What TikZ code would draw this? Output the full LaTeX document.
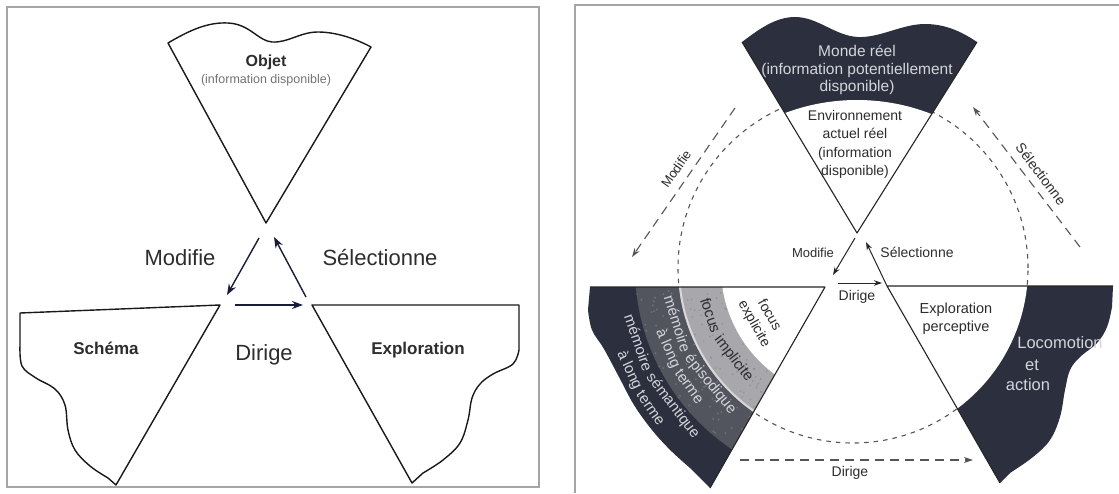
\documentclass[tikz,border=0pt]{standalone}
\usepackage{fontspec}
\setmainfont{Liberation Sans}
\usetikzlibrary{arrows.meta,calc}
\definecolor{navy}{RGB}{44,47,62}
\definecolor{midg}{RGB}{82,84,94}
\definecolor{lightg}{RGB}{168,168,172}
\definecolor{framec}{RGB}{165,165,165}
\definecolor{txt}{RGB}{45,45,45}
\definecolor{arr}{RGB}{25,28,55}
\definecolor{dashc}{RGB}{85,85,85}
\definecolor{lighttxt}{RGB}{212,212,218}
\newcommand\fsz[2]{\fontsize{#1}{#2}\selectfont}
% radius, angle (px-down frame), colour, size, text, name
\newcommand\arcword[6]{%
  \node[inner sep=0pt, text=#3, font=\fsz{#4}{#4}, rotate={90-(#2)}] (#6) at ({853+#1*cos(#2)},{268+#1*sin(#2)}) {#5};}
\begin{document}
\begin{tikzpicture}[x=1pt,y=-1pt,
  outl/.style={draw=black!90, line width=1.4pt, line join=round},
  rout/.style={draw=black!85, line width=1.1pt, line join=round},
  bigarrow/.style={draw=arr, line width=1.4pt, -{Stealth[length=11pt,width=8pt]}},
  smallarrow/.style={draw=black!85, line width=1pt, -{Stealth[length=8pt,width=5.5pt]}},
  dasharrow/.style={draw=dashc, line width=1.1pt, dash pattern=on 9pt off 6pt, -{Stealth[length=9pt,width=6pt]}},
  dashcirc/.style={draw=dashc, line width=1.1pt, dash pattern=on 4.5pt off 5pt},
  framel/.style={draw=framec, line width=1.2pt},
  lbl/.style={inner sep=0pt, text=txt, align=center},
  dlbl/.style={inner sep=0pt, text=lighttxt, align=center},
]
\useasboundingbox (0,0) rectangle (1119,493);
\fill[white] (0,0) rectangle (1119,493);

% ================= LEFT PANEL =================
\draw[framel] (7,7) rectangle (539,487);
\draw[outl] (168,43) .. controls (190,30) and (208,22) .. (228,23) .. controls (250,24) and (258,41) .. (272,42) .. controls (288,43) and (300,32) .. (318,32) .. controls (338,32) and (358,40) .. (371,47) -- (266,223) -- cycle;
\draw[outl] (20,313) -- (220,305) -- (116,485) -- plot[smooth,tension=0.6] coordinates {(108,478) (90,466) (75,450) (68,430) (65,405) (55,389) (36,378) (22,366) (20,345)} -- cycle;
\draw[outl] (312,305) -- (519,305) -- plot[smooth,tension=0.6] coordinates {(519,350) (513,364) (493,374) (480,384) (472,398) (468,420) (460,443) (443,460) (423,473)} -- (412,483) -- cycle;

\coordinate (lmA) at (259,238); \coordinate (lmB) at (227,295);
\coordinate (lsA) at (306,297); \coordinate (lsB) at (274,237);
\coordinate (ldA) at (235,305); \coordinate (ldB) at (303,305);
\draw[bigarrow] (lmA) -- (lmB);
\draw[bigarrow] (lsA) -- (lsB);
\draw[bigarrow] (ldA) -- (ldB);

\node[lbl, font=\fsz{16}{19}\bfseries] (objet) at (266,62) {Objet};
\node[lbl, text=black!55, font=\fsz{12.5}{15}] (objinfo) at (266,80) {(information disponible)};
\node[lbl, font=\fsz{22}{26}] (lmod) at (180,258) {Modifie};
\node[lbl, font=\fsz{22}{26}] (lsel) at (380,258) {Sélectionne};
\node[lbl, font=\fsz{22}{26}] (ldir) at (264,355) {Dirige};
\node[lbl, font=\fsz{17}{20}\bfseries] (schema) at (106,348) {Schéma};
\node[lbl, font=\fsz{17}{20}\bfseries] (explo) at (418,350) {Exploration};

% ================= RIGHT PANEL =================
\draw[framel] (575,493) -- (575,5) -- (1119,5);
\coordinate (O) at (853,268);
\draw[dashcirc] (O) circle[radius=175pt];

% top region
\fill[navy] (742,42) .. controls (758,30) and (775,17) .. (795,17) .. controls (818,17) and (835,36) .. (858,37) .. controls (880,38) and (902,24) .. (925,24) .. controls (948,24) and (965,34) .. (977,42) -- (857,233) -- cycle;
\begin{scope}
\clip (742,42) -- (977,42) -- (857,233) -- cycle;
\fill[white] (857,304) circle[radius=204pt];
\end{scope}
\draw[rout] (742,42) -- (857,233) -- (977,42);

% bottom-left region
\begin{scope}
\clip (590,287) -- (825,287) -- (710,488) -- plot[smooth,tension=0.6] coordinates {(690.6,468.5) (670.6,450.4) (652,430) (634,405) (619,377) (604,349) (592,330) (588,310)} -- cycle;
\fill[navy] (580,280) rectangle (840,495);
\begin{scope}
\clip (O) circle[radius=218pt];
\fill[midg] (580,280) rectangle (840,495);
\pgfmathsetseed{7}
\foreach \k in {1,...,500}{\pgfmathsetmacro{\sx}{705+125*rand}\pgfmathsetmacro{\sy}{390+100*rand}\fill[gray!70, opacity=0.35] (\sx,\sy) circle[radius=1.1pt];}
\end{scope}
\fill[lightg] (O) circle[radius=175pt];
\draw[lightg!45!white, line width=2pt] (O) circle[radius=174pt];
\begin{scope}
\clip (O) circle[radius=172pt];
\pgfmathsetseed{11}
\foreach \k in {1,...,400}{\pgfmathsetmacro{\sx}{735+100*rand}\pgfmathsetmacro{\sy}{370+80*rand}\fill[black!60, opacity=0.3] (\sx,\sy) circle[radius=1pt];}
\end{scope}
\fill[white] (O) circle[radius=132pt];
\end{scope}
\draw[rout] (590,287) -- (825,287) -- (710,488);

% bottom-right region
\fill[navy] (887,286) -- (1113,286) -- plot[smooth,tension=0.6] coordinates {(1112,307) (1107,327) (1097,343) (1080,357) (1070,370) (1065,390) (1060,417) (1050,440) (1033,457) (1010,473)} -- (1000,483) -- cycle;
\begin{scope}
\clip (887,286) -- (1113,286) -- plot[smooth,tension=0.6] coordinates {(1112,307) (1107,327) (1097,343) (1080,357) (1070,370) (1065,390) (1060,417) (1050,440) (1033,457) (1010,473)} -- (1000,483) -- cycle;
\fill[white] (O) circle[radius=175pt];
\end{scope}
\draw[rout] (1113,286) -- (887,286) -- (1000,483);

% central arrows
\coordinate (msA) at (855,238); \coordinate (msB) at (833,275);
\coordinate (ssA) at (887,286); \coordinate (ssB) at (866,242);
\coordinate (dsA) at (838,283); \coordinate (dsB) at (882,283);
\draw[smallarrow] (msA) -- (msB);
\draw[smallarrow] (ssA) -- (ssB);
\draw[smallarrow] (dsA) -- (dsB);

% dashed arrows
\coordinate (mdA) at (735,108); \coordinate (mdB) at (632,257);
\coordinate (sdA) at (1080,247); \coordinate (sdB) at (973,107);
\coordinate (ddA) at (740,460); \coordinate (ddB) at (973,460);
\draw[dasharrow] (mdA) -- (mdB);
\draw[dasharrow] (sdA) -- (sdB);
\draw[dasharrow] (ddA) -- (ddB);

% texts
\node[dlbl, font=\fsz{15.5}{17.5}] (monde) at (857,70) {Monde réel\\(information potentiellement\\disponible)};
\node[lbl, font=\fsz{14}{18.3}] (env) at (855,144.5) {Environnement\\actuel réel\\(information\\disponible)};
\node[lbl, font=\fsz{13}{15}] (rmod) at (813,253) {Modifie};
\node[lbl, font=\fsz{14}{16}] (rsel) at (917,252) {Sélectionne};
\node[lbl, font=\fsz{14}{16}] (rdir) at (857,297) {Dirige};
\node[lbl, font=\fsz{14.5}{18}] (explp) at (956,319) {Exploration\\perceptive};
\node[dlbl, font=\fsz{16.5}{19}] (loco) at (1060,343) {Locomotion};
\node[dlbl, font=\fsz{16.5}{19}] (et) at (1032,365) {et};
\node[dlbl, font=\fsz{16.5}{19}] (action) at (1028,385) {action};
\node[lbl, font=\fsz{14}{16}] (bdir) at (850,473) {Dirige};
\node[lbl, font=\fsz{13}{15}, rotate=55] (dmod) at (676,169) {Modifie};
\node[lbl, font=\fsz{14}{16}, rotate=-53] (dsel) at (1041,174) {Sélectionne};

% texts following the arcs of the memory region
\arcword{95}{150.5}{txt}{14}{focus}{w1}
\arcword{114}{150.5}{txt}{14}{explicite}{w2}
\arcword{150}{161.6}{txt}{15}{focus}{w3}
\arcword{150}{142.8}{txt}{15}{implicite}{w4}
\arcword{184}{162.4}{lighttxt}{15}{mémoire}{w5}
\arcword{184}{140.8}{lighttxt}{15}{épisodique}{w6}
\arcword{202}{156.5}{lighttxt}{15}{à long}{w7}
\arcword{202}{144.1}{lighttxt}{15}{terme}{w8}
\arcword{227}{160.8}{lighttxt}{15}{mémoire}{w9}
\arcword{227}{142.6}{lighttxt}{15}{sémantique}{w10}
\arcword{246}{155.5}{lighttxt}{15}{à long}{w11}
\arcword{246}{145.3}{lighttxt}{15}{terme}{w12}
\end{tikzpicture}
\end{document}
